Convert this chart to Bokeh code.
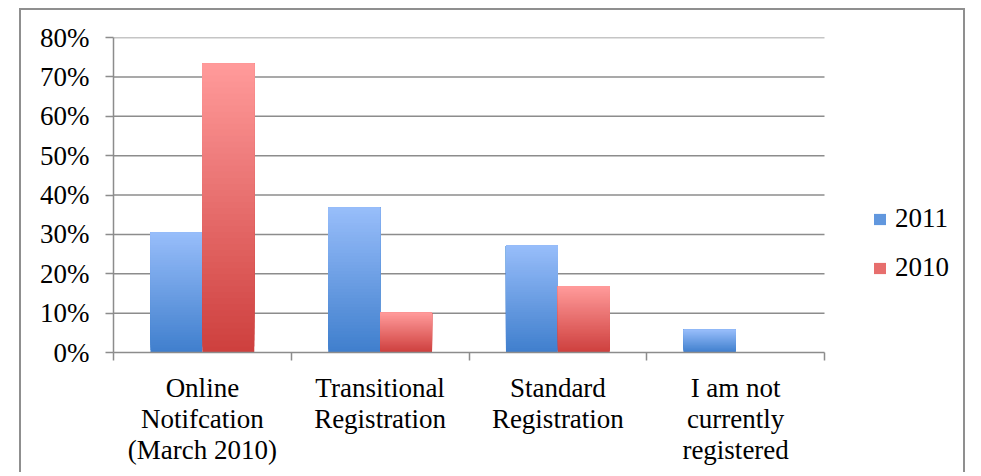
from bokeh.plotting import figure
from bokeh.models import Range1d, FixedTicker, Legend, LegendItem, ColumnDataSource
from bokeh.embed import file_html
from bokeh.resources import INLINE

# ---- data ----
categories = ["Online\nNotifcation\n(March 2010)",
              "Transitional\nRegistration",
              "Standard\nRegistration",
              "I am not\ncurrently\nregistered"]
series_names = ["2011", "2010"]
values_2011 = [0.305, 0.368, 0.272, 0.058]
values_2010 = [0.734, 0.101, 0.168, 0.0]
y_ticks = [0.0, 0.1, 0.2, 0.3, 0.4, 0.5, 0.6, 0.7, 0.8]
y_tick_labels = ["0%", "10%", "20%", "30%", "40%", "50%", "60%", "70%", "80%"]

# ---- style ----
FONT = "Liberation Serif"
FS = "27px"
GRAY = "#8c8c8c"
blue_top, blue_bot = (151, 189, 250), (64, 127, 205)
red_top, red_bot = (255, 154, 154), (206, 64, 62)
N = 48
BAR_W = 0.292
NCAT = len(categories)
FRAME_W = 852           # px, frame incl. legend area
DATA_W = 711            # px covered by the categories
X_END = NCAT * FRAME_W / DATA_W


def hexc(c):
    return "#%02x%02x%02x" % tuple(int(round(v)) for v in c)


def gradient_source(values, offset, top_c, bot_c):
    xs, bots, tops, cols = [], [], [], []
    for k in range(N):
        t = k / (N - 1)
        col = hexc([bot_c[j] + (top_c[j] - bot_c[j]) * t for j in range(3)])
        for i, v in enumerate(values):
            if v <= 0:
                continue
            xs.append(i + 0.5 + offset)
            bots.append(v * k / N)
            tops.append(v)
            cols.append(col)
    return ColumnDataSource(dict(x=xs, bottom=bots, top=tops, color=cols))


p = figure(width=946, height=464, output_backend="svg", toolbar_location=None,
           x_range=Range1d(0, X_END), y_range=Range1d(0, 0.8),
           min_border_left=92, min_border_right=946 - 92 - FRAME_W, min_border_top=27,
           min_border_bottom=122)
p.styles = {"margin-left": "19px", "margin-top": "8px",
            "border-top": "2px solid #8f8f8f",
            "border-left": "2px solid #8f8f8f", "border-right": "2px solid #8f8f8f"}
p.outline_line_color = None
p.background_fill_color = "white"
p.xgrid.grid_line_color = None
p.ygrid.grid_line_color = None

# horizontal gridlines limited to the category span
grid_y = [t for t in y_ticks if t > 0]
p.segment(x0=[0] * len(grid_y), x1=[NCAT] * len(grid_y), y0=grid_y, y1=grid_y,
          line_color=GRAY, line_width=1.5)

src11 = gradient_source(values_2011, -BAR_W / 2, blue_top, blue_bot)
src10 = gradient_source(values_2010, BAR_W / 2, red_top, red_bot)
r11 = p.vbar(x="x", bottom="bottom", top="top", width=BAR_W, source=src11,
             fill_color="color", line_color=None)
r10 = p.vbar(x="x", bottom="bottom", top="top", width=BAR_W, source=src10,
             fill_color="color", line_color=None)

# y axis
p.yaxis.ticker = FixedTicker(ticks=y_ticks)
p.yaxis.major_label_overrides = {t: l for t, l in zip(y_ticks, y_tick_labels)}
p.yaxis.minor_tick_line_color = None
p.yaxis.major_tick_in = 0
p.yaxis.major_tick_out = 8
p.yaxis.major_tick_line_color = GRAY
p.yaxis.major_tick_line_width = 1.5
p.yaxis.axis_line_color = GRAY
p.yaxis.axis_line_width = 1.5
p.yaxis.major_label_standoff = 16
p.yaxis.major_label_text_font = FONT
p.yaxis.major_label_text_font_size = FS
p.yaxis.major_label_text_color = "black"

# x axis
centers = [i + 0.5 for i in range(NCAT)]
bounds = [float(i) for i in range(NCAT + 1)]
p.xaxis.ticker = FixedTicker(ticks=centers, minor_ticks=bounds)
p.xaxis.bounds = (0, NCAT)
p.xaxis.major_label_overrides = {c: l for c, l in zip(centers, categories)}
p.xaxis.major_tick_line_color = None
p.xaxis.major_tick_in = 0
p.xaxis.major_tick_out = 8
p.xaxis.minor_tick_in = 0
p.xaxis.minor_tick_out = 8
p.xaxis.minor_tick_line_color = GRAY
p.xaxis.minor_tick_line_width = 1.5
p.xaxis.axis_line_color = GRAY
p.xaxis.axis_line_width = 1.5
p.xaxis.major_label_standoff = 12
p.xaxis.major_label_text_font = FONT
p.xaxis.major_label_text_font_size = FS
p.xaxis.major_label_text_color = "black"
p.xaxis.major_label_text_line_height = 1.04

mid = (N // 2) * 3
legend = Legend(items=[LegendItem(label=series_names[0], renderers=[r11], index=mid),
                       LegendItem(label=series_names[1], renderers=[r10], index=mid)],
                location=(759, 69))
legend.label_text_font = FONT
legend.label_text_font_size = FS
legend.label_text_color = "black"
legend.glyph_width = 15
legend.glyph_height = 14
legend.label_height = 30
legend.spacing = 18
legend.label_standoff = 8
legend.padding = 0
legend.margin = 0
legend.background_fill_alpha = 0
legend.border_line_color = None
p.add_layout(legend)

open("out.html", "w").write(file_html(p, INLINE))
